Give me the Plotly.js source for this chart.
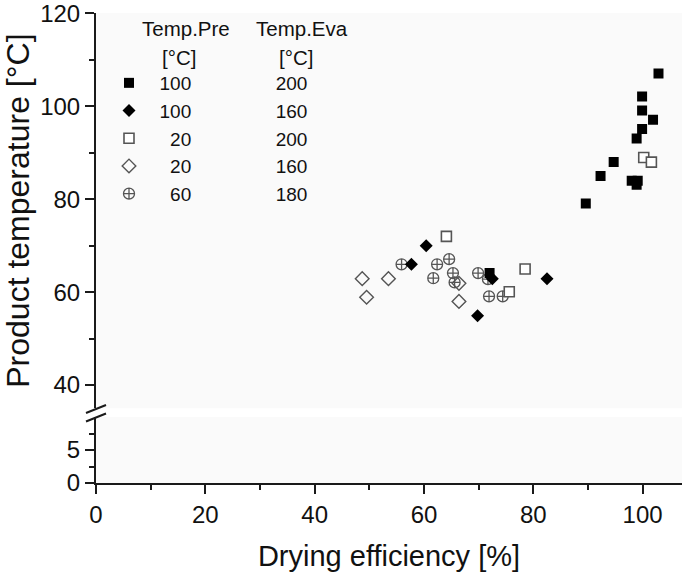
<!DOCTYPE html>
<html>
<head>
<meta charset="utf-8">
<script src="https://cdn.plot.ly/plotly-3.0.1.min.js"></script>
<style>html,body{margin:0;padding:0;background:#fff;}#chart{width:685px;height:576px;}</style>
</head>
<body>
<div id="chart"></div>
<script>
// ---- data ----
const preTemps = [100, 100, 20, 20, 60];   // Temp.Pre [°C]
const evaTemps = [200, 160, 200, 160, 180]; // Temp.Eva [°C]

// 100 / 200 (filled squares)
const sqFilledX = [102.9, 99.9, 99.9, 101.9, 99.9, 98.9, 94.7, 92.3, 98.0, 99.1, 98.9, 89.6, 72.0];
const sqFilledY = [107.1, 102.1, 99.1, 97.1, 95.1, 93.1, 88.0, 85.0, 84.0, 84.0, 83.1, 79.1, 64.1];
// 100 / 160 (filled diamonds)
const diFilledX = [60.4, 57.7, 72.5, 82.5, 69.8];
const diFilledY = [70.0, 66.0, 62.9, 62.9, 54.9];
// 20 / 200 (open squares)
const sqOpenX = [100.2, 101.6, 64.1, 78.5, 75.6];
const sqOpenY = [89.0, 88.0, 72.0, 65.0, 60.1];
// 20 / 160 (open diamonds)
const diOpenX = [48.7, 53.5, 49.5, 66.4, 66.4];
const diOpenY = [62.9, 62.9, 58.9, 61.9, 58.0];
// 60 / 180 (crossed circles)
const ccX = [55.9, 62.4, 64.6, 61.7, 65.3, 65.6, 69.9, 71.7, 71.9, 74.4];
const ccY = [66.0, 66.0, 67.1, 63.0, 64.1, 62.1, 64.1, 62.8, 59.1, 59.1];

const xTicks = [0, 20, 40, 60, 80, 100];
const yUpperTicks = [40, 60, 80, 100, 120];
const yLowerTicks = [0, 5];

// ---- helpers ----
const NB = '\u00A0';
function rowName(i) {
  const a = String(preTemps[i]);
  const pad = NB.repeat((3 - a.length) * 2);
  return NB.repeat(2) + pad + a + NB.repeat(16) + String(evaTemps[i]);
}
const grey = '#555555';

const traces = [
  {x: ccX, y: ccY, name: rowName(4), legendrank: 5,
   marker: {symbol: 'circle-cross-open', size: 11, color: grey, line: {width: 1.3, color: grey}}},
  {x: diOpenX, y: diOpenY, name: rowName(3), legendrank: 4,
   marker: {symbol: 'diamond-open', size: 10.5, color: grey, line: {width: 1.4, color: grey}}},
  {x: sqOpenX, y: sqOpenY, name: rowName(2), legendrank: 3,
   marker: {symbol: 'square', size: 10, color: '#ffffff', line: {width: 1.6, color: grey}}},
  {x: sqFilledX, y: sqFilledY, name: rowName(0), legendrank: 1,
   marker: {symbol: 'square', size: 10, color: '#000000', line: {width: 0}}},
  {x: diFilledX, y: diFilledY, name: rowName(1), legendrank: 2,
   marker: {symbol: 'diamond', size: 10, color: '#000000', line: {width: 0}}}
].map(t => Object.assign({type: 'scatter', mode: 'markers', xaxis: 'x', yaxis: 'y2', hoverinfo: 'x+y'}, t));

// lower band of the broken axis (no data there)
traces.push({type: 'scatter', mode: 'markers', x: [], y: [], xaxis: 'x', yaxis: 'y', showlegend: false});

const FONT = 'Liberation Sans, Arial, Helvetica, sans-serif';
const axisCommon = {
  showline: true, linecolor: '#1a1a1a', linewidth: 2,
  ticks: 'outside', tickcolor: '#1a1a1a', tickwidth: 2, ticklen: 9,
  showgrid: false, zeroline: false,
  tickfont: {family: FONT, size: 24, color: '#111'},
  ticklabeloverflow: 'allow',
  fixedrange: true
};

function px2px(px) { return (px - 96) / 586; }
function py2py(py) { return (483 - py) / 470; }

const layout = {
  width: 685, height: 576,
  margin: {l: 96, r: 3, t: 13, b: 93},
  paper_bgcolor: '#ffffff',
  plot_bgcolor: '#fafafa',
  font: {family: FONT, color: '#111'},
  showlegend: true,
  legend: {
    x: px2px(109), y: py2py(64), xanchor: 'left', yanchor: 'top',
    bgcolor: 'rgba(0,0,0,0)', borderwidth: 0,
    font: {family: FONT, size: 19, color: '#111'},
    itemclick: false, itemdoubleclick: false
  },
  xaxis: Object.assign({}, axisCommon, {
    anchor: 'y', range: [0, 107.2],
    tickmode: 'array', tickvals: xTicks,
    minor: {dtick: 10, tick0: 0, ticks: 'outside', ticklen: 5, tickwidth: 2, tickcolor: '#1a1a1a'},
    title: {text: 'Drying efficiency [%]', font: {family: FONT, size: 29, color: '#111'}, standoff: 19},
    automargin: false
  }),
  yaxis: Object.assign({}, axisCommon, {
    anchor: 'x', domain: [0, 0.1404], range: [0, 10],
    tickmode: 'array', tickvals: yLowerTicks,
    minor: {tickmode: 'array', tickvals: [2.5, 7.5], ticks: 'outside', ticklen: 5, tickwidth: 2, tickcolor: '#1a1a1a'},
    automargin: false
  }),
  yaxis2: Object.assign({}, axisCommon, {
    anchor: 'x', domain: [0.159, 1], range: [35, 120.1],
    tickmode: 'array', tickvals: yUpperTicks,
    minor: {dtick: 10, tick0: 40, ticks: 'outside', ticklen: 5, tickwidth: 2, tickcolor: '#1a1a1a'},
    title: {text: 'Product temperature [°C]', font: {family: FONT, size: 32, color: '#111'}, standoff: 7},
    automargin: false
  }),
  shapes: [
    {type: 'line', xref: 'paper', yref: 'paper', x0: px2px(86), y0: py2py(413), x1: px2px(106), y1: py2py(405), line: {color: '#1a1a1a', width: 2}},
    {type: 'line', xref: 'paper', yref: 'paper', x0: px2px(86), y0: py2py(421.5), x1: px2px(106), y1: py2py(413.5), line: {color: '#1a1a1a', width: 2}}
  ],
  annotations: [
    {text: 'Temp.Pre', xref: 'paper', yref: 'paper', x: px2px(232), y: py2py(28.5), xanchor: 'right', yanchor: 'middle', showarrow: false, font: {family: FONT, size: 20.5, color: '#111'}},
    {text: '[°C]', xref: 'paper', yref: 'paper', x: px2px(198), y: py2py(57), xanchor: 'right', yanchor: 'middle', showarrow: false, font: {family: FONT, size: 20.5, color: '#111'}},
    {text: 'Temp.Eva', xref: 'paper', yref: 'paper', x: px2px(254), y: py2py(28.5), xanchor: 'left', yanchor: 'middle', showarrow: false, font: {family: FONT, size: 20.5, color: '#111'}},
    {text: '[°C]', xref: 'paper', yref: 'paper', x: px2px(277), y: py2py(57), xanchor: 'left', yanchor: 'middle', showarrow: false, font: {family: FONT, size: 20.5, color: '#111'}}
  ]
};

Plotly.newPlot('chart', traces, layout, {displayModeBar: false, staticPlot: true});
</script>
</body>
</html>
